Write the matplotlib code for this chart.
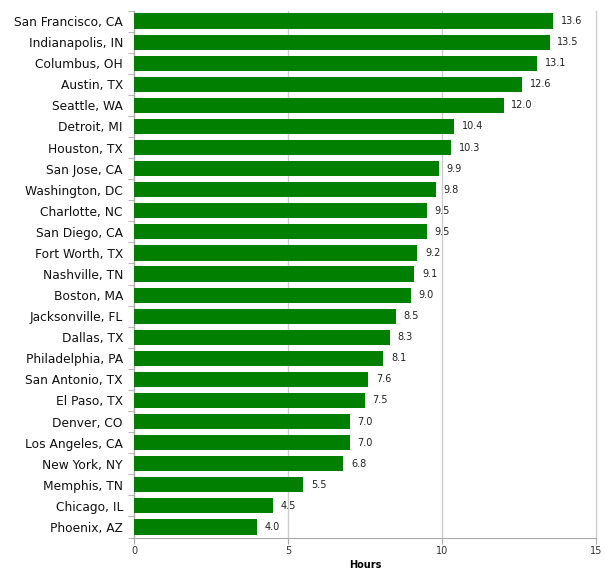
import matplotlib.pyplot as plt
import numpy as np

# cities, top to bottom
cities = ["San Francisco, CA", "Indianapolis, IN", "Columbus, OH", "Austin, TX",
          "Seattle, WA", "Detroit, MI", "Houston, TX", "San Jose, CA",
          "Washington, DC", "Charlotte, NC", "San Diego, CA", "Fort Worth, TX",
          "Nashville, TN", "Boston, MA", "Jacksonville, FL", "Dallas, TX",
          "Philadelphia, PA", "San Antonio, TX", "El Paso, TX", "Denver, CO",
          "Los Angeles, CA", "New York, NY", "Memphis, TN", "Chicago, IL",
          "Phoenix, AZ"]
hours = [13.6, 13.5, 13.1, 12.6, 12.0, 10.4, 10.3, 9.9, 9.8, 9.5, 9.5, 9.2,
         9.1, 9.0, 8.5, 8.3, 8.1, 7.6, 7.5, 7.0, 7.0, 6.8, 5.5, 4.5, 4.0]
xticks = [0, 5, 10, 15]

fig = plt.figure(figsize=(6.05, 5.72), dpi=100)
ax = fig.add_axes([0.2215, 0.0603, 0.7635, 0.9213])

y = np.arange(len(cities))[::-1]
ax.barh(y, hours, height=0.72, color="#007f00", zorder=3)

for yi, v in zip(y, hours):
    ax.text(v + 0.25, yi, f"{v:.1f}", va="center", ha="left", fontsize=7,
            color="#222222")

ax.set_ylim(-0.5, len(cities) - 0.5)
ax.set_xlim(0, 15)
ax.set_yticks(y)
ax.set_yticklabels(cities, fontsize=8.8, color="#111111")
ax.set_yticks(np.arange(-0.5, len(cities), 1), minor=True)
ax.tick_params(axis="y", which="major", length=0, pad=8)
ax.tick_params(axis="y", which="minor", length=4, color="#aaaaaa")
ax.set_xticks(xticks)
ax.set_xticklabels([str(t) for t in xticks], fontsize=7, color="#333333")
ax.tick_params(axis="x", length=4, color="#aaaaaa", pad=2)
ax.grid(axis="x", color="#cccccc", linewidth=1, zorder=0)
for gl in ax.get_xgridlines():
    gl.set_clip_on(False)
ax.set_xlabel("Hours", fontsize=7, fontweight="bold", labelpad=3)

for s in ["top", "right"]:
    ax.spines[s].set_visible(False)
for s in ["left", "bottom"]:
    ax.spines[s].set_color("#aaaaaa")

plt.savefig("out.png", dpi=100)
